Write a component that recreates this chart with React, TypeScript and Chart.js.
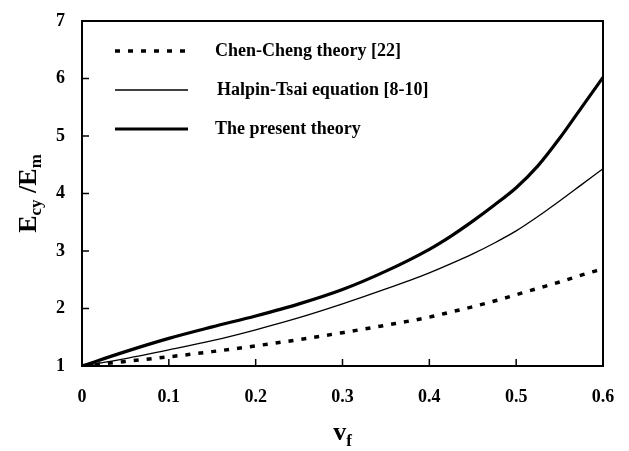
import React, { useEffect, useRef } from "react";
import { Chart, registerables } from "chart.js";

Chart.register(...registerables);

// Fibre volume fraction v_f
const vfValues = [0, 0.05, 0.1, 0.15, 0.2, 0.25, 0.3, 0.35, 0.4, 0.425, 0.45, 0.475, 0.5, 0.525, 0.55, 0.575, 0.6];
// Chen-Cheng theory [22]
const chenCheng = [1.0, 1.08, 1.16, 1.25, 1.35, 1.46, 1.58, 1.71, 1.85, 1.94, 2.03, 2.13, 2.24, 2.35, 2.46, 2.58, 2.69];
// Halpin-Tsai equation [8-10]
const halpinTsai = [1.0, 1.13, 1.28, 1.44, 1.63, 1.84, 2.08, 2.34, 2.62, 2.78, 2.95, 3.14, 3.35, 3.6, 3.87, 4.15, 4.43];
// The present theory
const presentTheory = [1.0, 1.25, 1.48, 1.68, 1.87, 2.08, 2.33, 2.65, 3.03, 3.26, 3.52, 3.8, 4.1, 4.48, 4.96, 5.49, 6.02];

const seriesLabels = ["Chen-Cheng theory [22]", "Halpin-Tsai equation [8-10]", "The present theory"];
const xTickValues = [0, 0.1, 0.2, 0.3, 0.4, 0.5, 0.6];
const yTickValues = [1, 2, 3, 4, 5, 6, 7];

const SERIF = "'Liberation Serif', 'Times New Roman', serif";

const toPoints = (ys: number[]) => vfValues.map((x, i) => ({ x, y: ys[i] }));

function drawParts(
  ctx: CanvasRenderingContext2D,
  parts: { t: string; size: number; dy: number }[],
  cx: number,
  baseY: number
) {
  let total = 0;
  for (const p of parts) {
    ctx.font = `bold ${p.size}px ${SERIF}`;
    total += ctx.measureText(p.t).width;
  }
  let x = cx - total / 2;
  ctx.textAlign = "left";
  ctx.textBaseline = "alphabetic";
  for (const p of parts) {
    ctx.font = `bold ${p.size}px ${SERIF}`;
    ctx.fillText(p.t, x, baseY + p.dy);
    x += ctx.measureText(p.t).width;
  }
}

const decorPlugin = {
  id: "decor",
  afterDatasetsDraw(chart: any) {
    const { ctx, chartArea: a, scales } = chart;
    ctx.save();
    ctx.strokeStyle = "#000";
    ctx.fillStyle = "#000";
    ctx.setLineDash([]);

    // inward ticks
    ctx.lineWidth = 1.5;
    for (const v of yTickValues.slice(1, -1)) {
      const y = scales.y.getPixelForValue(v);
      ctx.beginPath();
      ctx.moveTo(a.left, y);
      ctx.lineTo(a.left + 7, y);
      ctx.stroke();
    }
    for (const v of xTickValues.slice(1, -1)) {
      const x = scales.x.getPixelForValue(v);
      ctx.beginPath();
      ctx.moveTo(x, a.bottom);
      ctx.lineTo(x, a.bottom - 7);
      ctx.stroke();
    }

    // frame
    ctx.lineWidth = 2;
    ctx.strokeRect(a.left, a.top, a.right - a.left, a.bottom - a.top);

    // legend
    const rows = [a.top + 30, a.top + 69, a.top + 108];
    const textX = [a.left + 133, a.left + 135, a.left + 133];
    chart.data.datasets.forEach((ds: any, i: number) => {
      const y = rows[i];
      ctx.save();
      ctx.lineWidth = ds.borderWidth;
      ctx.setLineDash(ds.borderDash || []);
      ctx.lineCap = "butt";
      ctx.beginPath();
      ctx.moveTo(a.left + 33, y);
      ctx.lineTo(a.left + 106, y);
      ctx.stroke();
      ctx.restore();
      ctx.font = `bold 18px ${SERIF}`;
      ctx.textAlign = "left";
      ctx.textBaseline = "middle";
      ctx.fillText(ds.label, textX[i], y);
    });

    // x title: v_f
    drawParts(
      ctx,
      [
        { t: "v", size: 26, dy: 0 },
        { t: "f", size: 17, dy: 6 },
      ],
      (a.left + a.right) / 2,
      440
    );

    // y title: E_cy /E_m
    ctx.save();
    ctx.translate(36, (a.top + a.bottom) / 2);
    ctx.rotate(-Math.PI / 2);
    drawParts(
      ctx,
      [
        { t: "E", size: 26, dy: 0 },
        { t: "cy", size: 17, dy: 5 },
        { t: " /", size: 26, dy: 0 },
        { t: "E", size: 26, dy: 0 },
        { t: "m", size: 17, dy: 5 },
      ],
      0,
      0
    );
    ctx.restore();

    ctx.restore();
  },
};

export default function App() {
  const ref = useRef<HTMLCanvasElement | null>(null);

  useEffect(() => {
    if (!ref.current) return;
    const chart = new Chart(ref.current, {
      type: "line",
      data: {
        datasets: [
          {
            label: seriesLabels[0],
            data: toPoints(chenCheng),
            borderColor: "#000",
            borderWidth: 3.5,
            borderDash: [5, 8],
            pointRadius: 0,
            fill: false,
            cubicInterpolationMode: "monotone",
          },
          {
            label: seriesLabels[1],
            data: toPoints(halpinTsai),
            borderColor: "#000",
            borderWidth: 1.3,
            pointRadius: 0,
            fill: false,
            cubicInterpolationMode: "monotone",
          },
          {
            label: seriesLabels[2],
            data: toPoints(presentTheory),
            borderColor: "#000",
            borderWidth: 3.2,
            pointRadius: 0,
            fill: false,
            cubicInterpolationMode: "monotone",
          },
        ],
      },
      options: {
        responsive: false,
        animation: false,
        devicePixelRatio: 1,
        layout: { padding: { top: 21, right: 26, left: 0, bottom: 0 } },
        plugins: { legend: { display: false }, tooltip: { enabled: false } },
        scales: {
          x: {
            type: "linear",
            min: 0,
            max: 0.6,
            afterBuildTicks: (s: any) => {
              s.ticks = xTickValues.map((value) => ({ value }));
            },
            afterFit: (s: any) => {
              s.height = 85;
              s.paddingLeft = 0;
              s.paddingRight = 0;
            },
            grid: { display: false, drawTicks: false },
            border: { display: false },
            ticks: {
              padding: 21,
              color: "#000",
              maxRotation: 0,
              autoSkip: false,
              font: { family: SERIF, size: 18, weight: "bold" },
              callback: (v: any) => (v === 0 ? "0" : Number(v).toFixed(1)),
            },
          },
          y: {
            type: "linear",
            min: 1,
            max: 7,
            afterBuildTicks: (s: any) => {
              s.ticks = yTickValues.map((value) => ({ value }));
            },
            afterFit: (s: any) => {
              s.width = 82;
              s.paddingTop = 0;
              s.paddingBottom = 0;
            },
            grid: { display: false, drawTicks: false },
            border: { display: false },
            ticks: {
              padding: 17,
              color: "#000",
              autoSkip: false,
              font: { family: SERIF, size: 18, weight: "bold" },
              callback: (v: any) => String(v),
            },
          },
        },
      },
      plugins: [decorPlugin],
    } as any);
    return () => chart.destroy();
  }, []);

  return (
    <div style={{ position: "absolute", left: 0, top: 0, width: 629, height: 451, background: "#fff" }}>
      <canvas ref={ref} width={629} height={451} style={{ display: "block" }} />
    </div>
  );
}
